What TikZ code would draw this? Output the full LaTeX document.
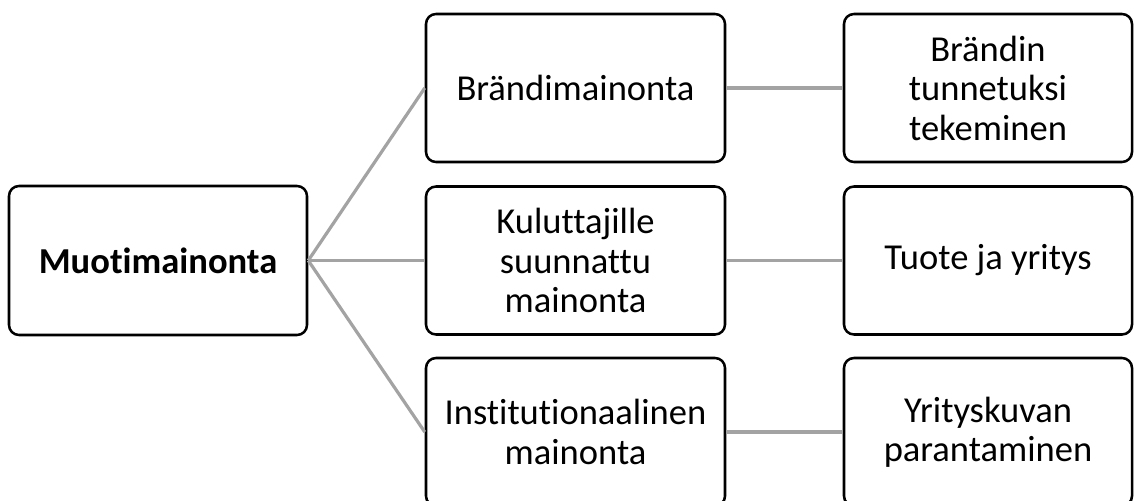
\documentclass[tikz,border=0pt]{standalone}
\usepackage{fontspec}
\setmainfont{Carlito}[Ligatures={NoCommon,NoRare,NoContextual}]
\begin{document}
\begin{tikzpicture}[x=0.75pt,y=-0.75pt,
  box/.style={draw=black, line width=1.9pt, rounded corners=7.5pt, fill=white,
    align=center, inner sep=0pt, font=\fontsize{27.4pt}{29.6pt}\selectfont},
  rootbox/.style={box, minimum width=223.5pt, minimum height=111.75pt, font=\fontsize{27.4pt}{29.6pt}\selectfont\bfseries},
  midbox/.style={box, minimum width=224.25pt, minimum height=111pt},
  rightbox/.style={box, minimum width=216pt, minimum height=111pt},
  link/.style={draw=black!36, line width=2.4pt}]
\useasboundingbox (0,0) rectangle (1134,500);
\clip (0,0) rectangle (1134,500);
\node[rootbox] (root) at (158,260.5) {Muotimainonta};
\node[midbox] (m1) at (575.5,88) {Brändimainonta};
\node[midbox] (m2) at (575.5,260.5) {Kuluttajille\\suunnattu\\mainonta};
\node[midbox] (m3) at (575.5,432) {Institutionaalinen\\mainonta};
\node[rightbox] (r1) at (988,88) {Brändin\\tunnetuksi\\tekeminen};
\node[rightbox] (r2) at (988,260.5) {Tuote ja yritys};
\node[rightbox] (r3) at (988,432) {Yrityskuvan\\parantaminen};
\draw[link] (root.east) -- (m1.west);
\draw[link] (root.east) -- (m2.west);
\draw[link] (root.east) -- (m3.west);
\draw[link] (m1.east) -- (r1.west);
\draw[link] (m2.east) -- (r2.west);
\draw[link] (m3.east) -- (r3.west);
\end{tikzpicture}
\end{document}
